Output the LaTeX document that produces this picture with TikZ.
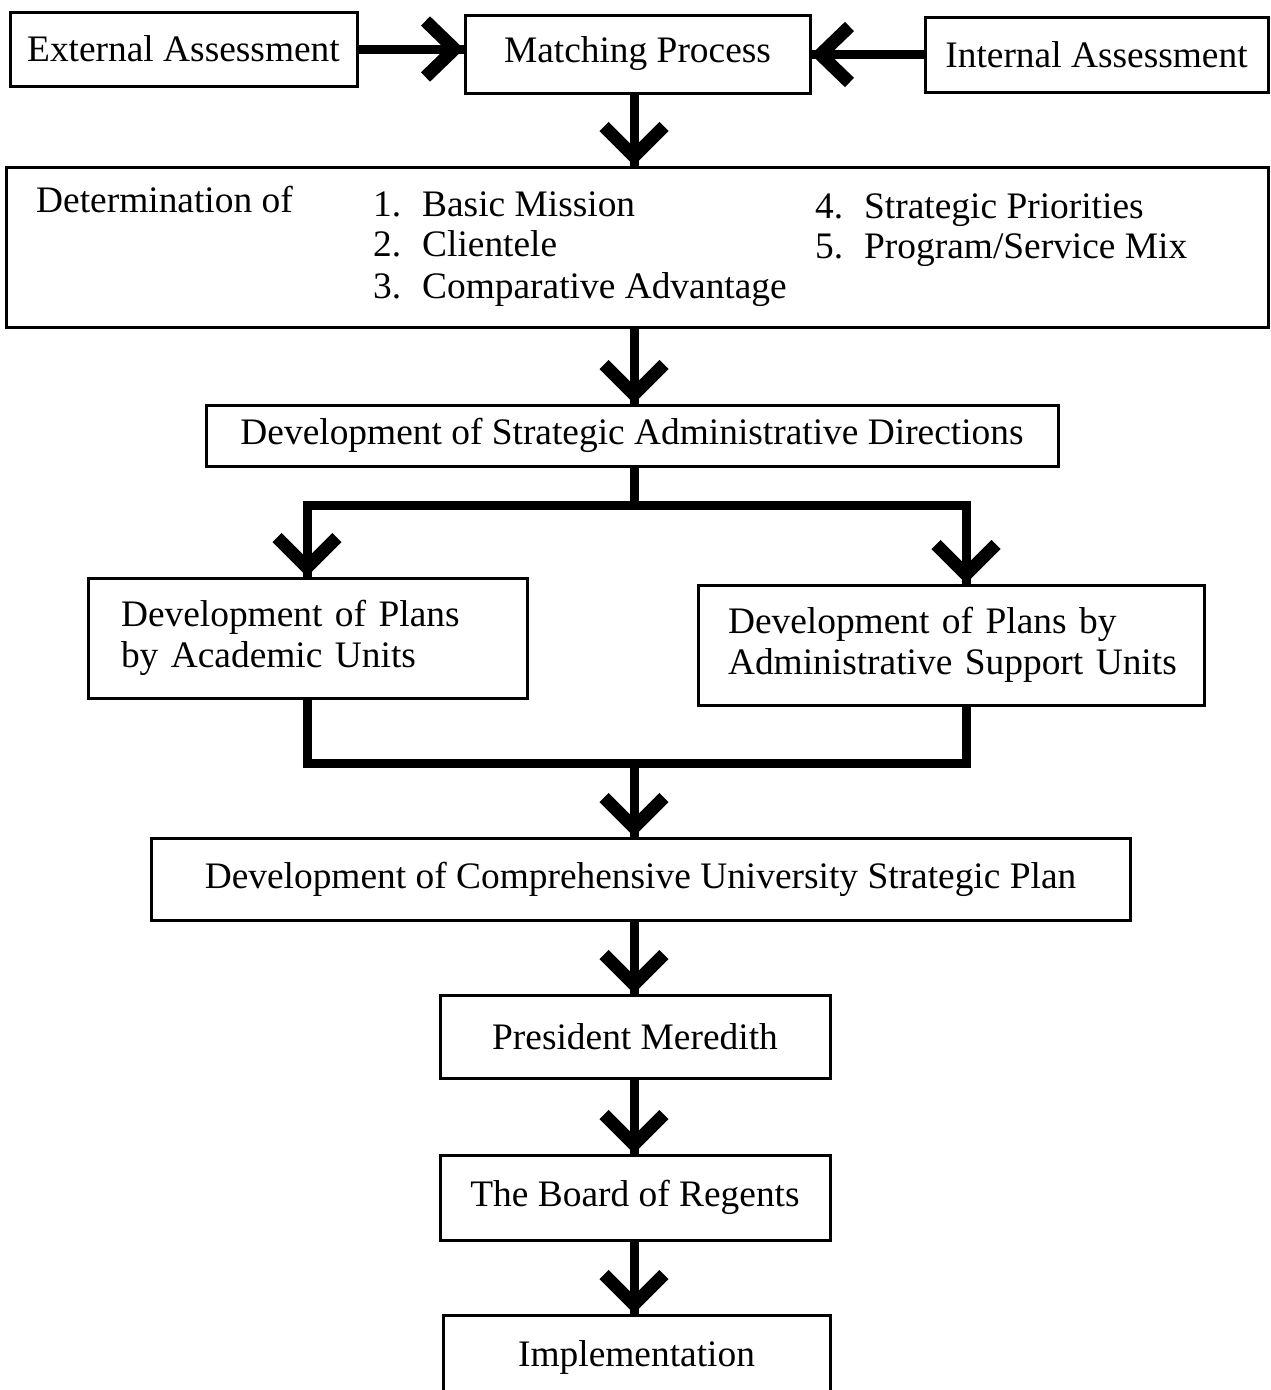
\documentclass[tikz,border=0pt]{standalone}
\usepackage{fontspec}
\setmainfont{Liberation Serif}
\usetikzlibrary{calc}
\tikzset{
  txt/.style={font=\fontsize{37.4}{41}\selectfont, inner sep=0pt},
  box/.style={txt, draw, line width=3pt},
  shaft/.style={line width=9pt, line join=miter},
  arm/.style={line width=13pt, line join=miter, line cap=butt},
}
\newcommand\chevdown[1]{\draw[arm] ($(#1)+(-30,-39)$) -- ($(#1)+(0,-9)$) -- ($(#1)+(30,-39)$);}
\newcommand\chevright[1]{\draw[arm] ($(#1)+(-38,-28)$) -- ($(#1)+(-9,0)$) -- ($(#1)+(-38,28)$);}
\newcommand\chevleft[1]{\draw[arm] ($(#1)+(38,-28)$) -- ($(#1)+(9,0)$) -- ($(#1)+(38,28)$);}
\newcommand\itm[2]{\makebox[49pt][l]{#1}#2}
\begin{document}
\begin{tikzpicture}[x=1pt,y=-1pt]
\useasboundingbox (0,0) rectangle (1270,1390);
\clip (0,0) rectangle (1270,1390);
% boxes
\node[box, minimum width=347pt, minimum height=74pt] (ext) at (183.5,49) {External Assessment};
\node[box, minimum width=345pt, minimum height=78pt] (match) at (637.5,54) {Matching Process};
\node[box, minimum width=343pt, minimum height=75pt] (int) at (1096.5,54.5) {Internal Assessment};
\node[box, minimum width=1262pt, minimum height=160pt] (det) at (637,247) {};
\node[txt, anchor=base west] (detl) at (36,212) {Determination of};
\node[txt, anchor=base west] (i1) at (373,216) {\itm{1.}{Basic Mission}};
\node[txt, anchor=base west] (i2) at (373,256) {\itm{2.}{Clientele}};
\node[txt, anchor=base west] (i3) at (373,298) {\itm{3.}{Comparative Advantage}};
\node[txt, anchor=base west] (i4) at (815,218) {\itm{4.}{Strategic Priorities}};
\node[txt, anchor=base west] (i5) at (815,258) {\itm{5.}{Program/Service Mix}};
\node[box, minimum width=852pt, minimum height=61pt] (dirs) at (632,435.5) {Development of Strategic Administrative Directions};
\node[box, minimum width=439pt, minimum height=120pt, text width=373pt, align=left] (acad) at (307.5,638)
  {\mbox{Development of Plans}\\\mbox{by Academic Units}};
\node[box, minimum width=506pt, minimum height=120pt, text width=446pt, align=left] (admin) at (951,645)
  {\mbox{Development of Plans by}\\\mbox{Administrative Support Units}};
\node[box, minimum width=979pt, minimum height=82pt] (comp) at (640.5,879) {Development of Comprehensive University Strategic Plan};
\node[box, minimum width=390pt, minimum height=83pt] (pres) at (635,1036.5) {President Meredith};
\node[box, minimum width=390pt, minimum height=85pt] (board) at (635,1197.5) {The Board of Regents};
\node[box, minimum width=387pt, minimum height=85pt] (impl) at (636.5,1357.5) {Implementation};
% side arrows
\draw[shaft] (ext.east) -- (ext.east -| match.west);
\chevright{ext.east -| match.west}
\draw[shaft] (int.west) -- (int.west -| match.east);
\chevleft{int.west -| match.east}
% vertical arrows
\coordinate (a1) at (634,0);
\draw[shaft] (a1 |- match.south) -- (a1 |- det.north); \chevdown{a1 |- det.north}
\draw[shaft] (a1 |- det.south) -- (a1 |- dirs.north); \chevdown{a1 |- dirs.north}
% split
\coordinate (La) at (307,505);
\coordinate (Ma) at (634,505);
\coordinate (Ra) at (966,505);
\draw[shaft] (Ma |- dirs.south) -- (Ma);
\draw[shaft] (La |- acad.north) -- (La) -- (Ra) -- (Ra |- admin.north);
\chevdown{La |- acad.north}
\chevdown{Ra |- admin.north}
% join
\coordinate (Lb) at (307,763);
\coordinate (Mb) at (634,763);
\coordinate (Rb) at (966,763);
\draw[shaft] (Lb |- acad.south) -- (Lb) -- (Rb) -- (Rb |- admin.south);
\draw[shaft] (Mb) -- (Mb |- comp.north); \chevdown{Mb |- comp.north}
\draw[shaft] (a1 |- comp.south) -- (a1 |- pres.north); \chevdown{a1 |- pres.north}
\draw[shaft] (a1 |- pres.south) -- (a1 |- board.north); \chevdown{a1 |- board.north}
\draw[shaft] (a1 |- board.south) -- (a1 |- impl.north); \chevdown{a1 |- impl.north}
\end{tikzpicture}
\end{document}
